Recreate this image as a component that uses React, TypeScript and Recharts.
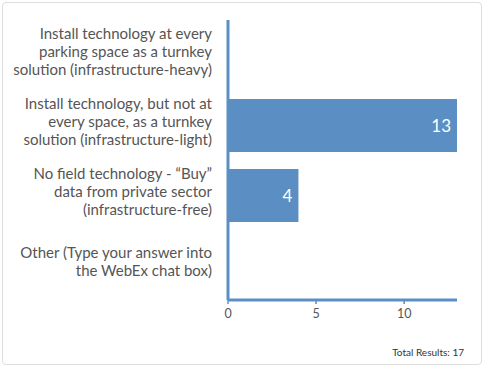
import React from 'react';
import { BarChart, Bar, XAxis, YAxis, LabelList } from 'recharts';

const categories = [
  'Install technology at every\nparking space as a turnkey\nsolution (infrastructure-heavy)',
  'Install technology, but not at\nevery space, as a turnkey\nsolution (infrastructure-light)',
  'No field technology - \u201cBuy\u201d\ndata from private sector\n(infrastructure-free)',
  'Other (Type your answer into\nthe WebEx chat box)',
];
const responses = [0, 13, 4, 0];
const xTicks = [0, 5, 10];
const totalResults = 17;

const data = categories.map((name, i) => ({ name, value: responses[i] }));

const BLUE = '#5b8fc4';

const CategoryTick = (props: any) => {
  const { x, y, payload } = props;
  const lines: string[] = String(payload.value).split('\n');
  const lh = 18;
  const start = y - ((lines.length - 1) * lh) / 2 - 3;
  return (
    <text x={x} y={start} textAnchor="end" fill="#555" fontSize={15} fontFamily="Lato">
      {lines.map((l, i) => (
        <tspan key={i} x={x} y={start + i * lh} dy="0.35em">
          {l}
        </tspan>
      ))}
    </text>
  );
};

export default function App() {
  return (
    <div style={{ position: 'absolute', left: 0, top: 0, width: 485, height: 368, background: '#fff' }}>
      <div
        style={{
          position: 'absolute',
          left: 2,
          top: 2,
          width: 478,
          height: 361,
          border: '1px solid #ddd',
          borderRadius: 4,
        }}
      />
      <div style={{ position: 'absolute', left: 0, top: 0 }}>
        <BarChart
          layout="vertical"
          width={485}
          height={368}
          data={data}
          margin={{ top: 20, right: 28, bottom: 38, left: 0 }}
        >
          <XAxis
            type="number"
            domain={[0, 13]}
            ticks={xTicks}
            height={30}
            axisLine={{ stroke: BLUE, strokeWidth: 3 }}
            tickLine={{ stroke: BLUE, strokeWidth: 1.5 }}
            tickSize={4}
            tickMargin={5}
            tick={{ fill: '#555', fontSize: 12.5, fontFamily: 'Lato' }}
          />
          <YAxis
            type="category"
            dataKey="name"
            width={228}
            axisLine={{ stroke: BLUE, strokeWidth: 3 }}
            tickLine={false}
            tickMargin={10}
            tick={<CategoryTick />}
          />
          <Bar dataKey="value" fill={BLUE} barSize={53} isAnimationActive={false}>
            <LabelList
              dataKey="value"
              position="insideRight"
              offset={6}
              fill="#fff"
              fontSize={17}
              fontFamily="Lato"
              formatter={(v: any) => (v ? v : '')}
            />
          </Bar>
        </BarChart>
      </div>
      <div
        style={{
          position: 'absolute',
          right: 21,
          top: 346,
          fontSize: 10,
          fontFamily: 'Lato',
          color: '#333',
        }}
      >
        Total Results: {totalResults}
      </div>
    </div>
  );
}
